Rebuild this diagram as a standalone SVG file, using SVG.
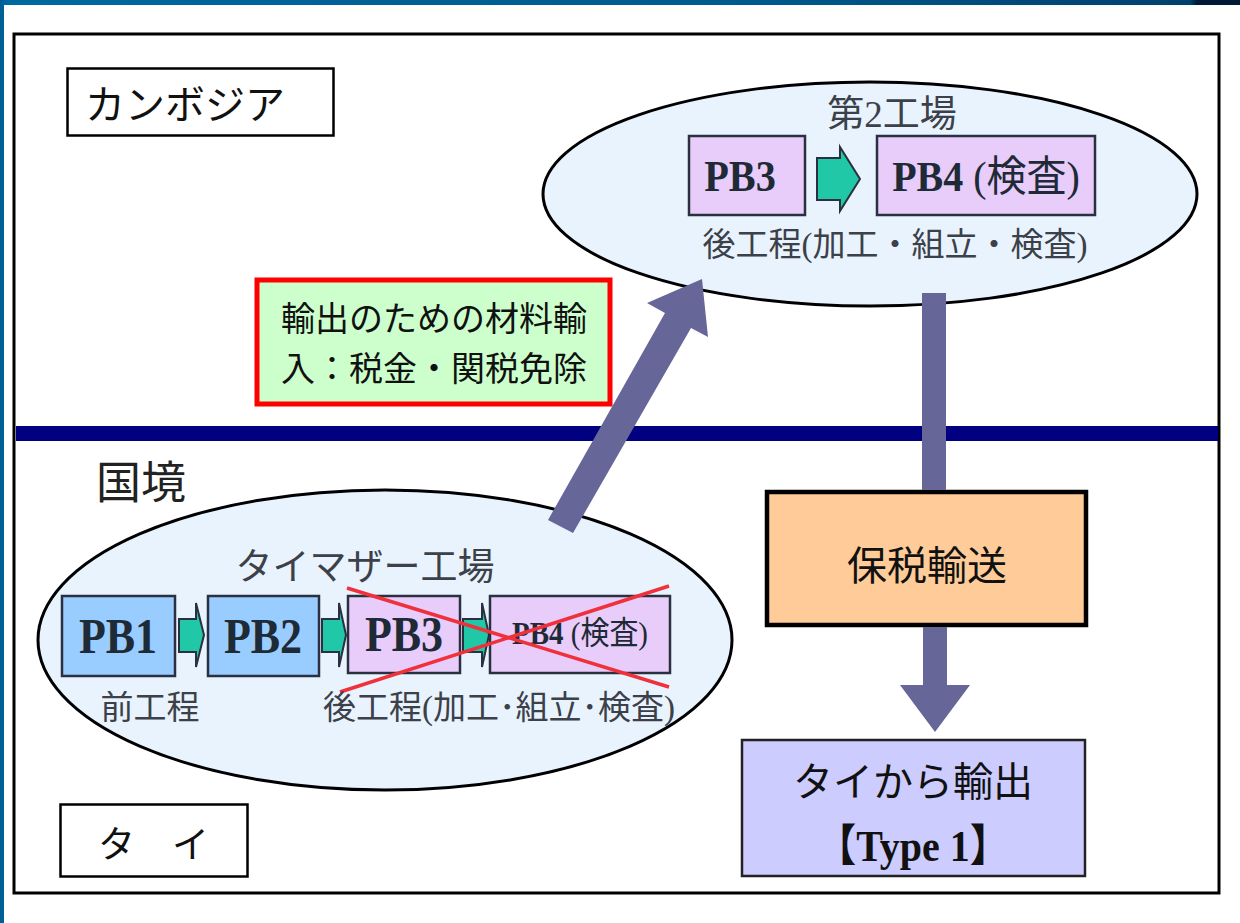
<svg xmlns="http://www.w3.org/2000/svg" width="1240" height="923" viewBox="0 0 1240 923">
<defs>
<linearGradient id="topbar" x1="0" y1="0" x2="1" y2="0">
<stop offset="0" stop-color="#0068a0"/>
<stop offset="0.6" stop-color="#005a8e"/>
<stop offset="0.96" stop-color="#00406e"/>
<stop offset="0.965" stop-color="#001a36"/>
<stop offset="1" stop-color="#001a36"/>
</linearGradient>
</defs>
<style>
.jp{font-family:"Liberation Serif","Noto Sans CJK JP",serif;}
.pb{font-family:"Liberation Serif","Noto Sans CJK JP",serif;font-weight:bold;fill:#1e2a36;}
.box{stroke:#2a3040;stroke-width:2.5;}
.pur{fill:#e8ccfa;}
.blu{fill:#99ccff;}
.teal{fill:#20c8a8;stroke:#2a3040;stroke-width:2;}
.big{fill:#666699;}
.ell{fill:#e8f3fe;stroke:#000;stroke-width:3;}
.gray{fill:#3c4048;}
</style>
<rect x="0" y="0" width="1240" height="923" fill="#fff"/>
<rect x="0" y="0" width="1240" height="5" fill="url(#topbar)"/>
<rect x="0" y="0" width="4" height="923" fill="#005f94"/>
<rect x="14" y="34" width="1205" height="859" fill="none" stroke="#000" stroke-width="3"/>

<g id="cambodia">
<rect x="67.5" y="68.5" width="266" height="67" fill="#fff" stroke="#000" stroke-width="2.5"/>
<text class="jp" x="85" y="119" font-size="40" fill="#111">カンボジア</text>
</g>

<g id="border">
<rect x="16" y="426" width="1202" height="15" fill="#000080"/>
<text class="jp" x="96" y="499" font-size="45" fill="#222">国境</text>
</g>

<g id="thailand">
<rect x="60.5" y="804.5" width="187" height="72" fill="#fff" stroke="#000" stroke-width="2.5"/>
<text class="jp" x="98" y="858" font-size="37" fill="#111">タ　イ</text>
</g>

<g id="factory2">
<ellipse cx="870" cy="194" rx="327" ry="112" class="ell"/>
<text class="jp gray" x="892" y="127" font-size="37" text-anchor="middle">第2工場</text>
<rect x="689" y="136" width="116" height="79" class="box pur"/>
<text class="pb" font-size="42" text-anchor="middle" transform="translate(740,191) scale(0.96,1.06)">PB3</text>
<path d="M817,158 H840 V147 L860,179 L840,211 V200 H817 Z" class="teal"/>
<rect x="877" y="136" width="218" height="79" class="box pur"/>
<text font-size="40" text-anchor="middle" class="jp" fill="#1e2a36" transform="translate(986,191) scale(1,1.06)"><tspan font-weight="bold">PB4</tspan> (検査)</text>
<text class="jp gray" x="895" y="256" font-size="33" text-anchor="middle">後工程(加工・組立・検査)</text>
</g>

<g id="note">
<rect x="257" y="280" width="353" height="124" fill="#ccffcc" stroke="#ff0000" stroke-width="5"/>
<text class="jp" x="281" y="331" font-size="34" fill="#111">輸出のための材料輸</text>
<text class="jp" x="281" y="381" font-size="34" fill="#111">入：税金・関税免除</text>
</g>

<g id="factory1">
<ellipse cx="385" cy="640" rx="347" ry="150" class="ell"/>
<text class="jp gray" x="365" y="580" font-size="37" text-anchor="middle">タイマザー工場</text>
<rect x="62" y="596" width="113" height="80" class="box blu"/>
<text class="pb" font-size="44" text-anchor="middle" transform="translate(118,653) scale(1,1.17)">PB1</text>
<path d="M179,619 H196 V603 L204,635 L196,667 V652 H179 Z" class="teal"/>
<rect x="208" y="596" width="111" height="80" class="box blu"/>
<text class="pb" font-size="44" text-anchor="middle" transform="translate(263,653) scale(1,1.17)">PB2</text>
<path d="M322,619 H339 V603 L346,635 L339,667 V652 H322 Z" class="teal"/>
<rect x="348" y="596" width="112" height="77" class="box pur"/>
<text class="pb" font-size="44" text-anchor="middle" transform="translate(404,651) scale(1,1.17)">PB3</text>
<path d="M463,619 H482 V603 L489,635 L482,667 V652 H463 Z" class="teal"/>
<rect x="490" y="596" width="180" height="77" class="box pur"/>
<text font-size="29" text-anchor="middle" class="jp" fill="#1e2a36" transform="translate(580,644) scale(1,1.1)"><tspan font-weight="bold">PB4</tspan> (検査)</text>
<line x1="347" y1="588" x2="669" y2="687" stroke="#f0303a" stroke-width="3.5"/>
<line x1="340" y1="692" x2="669" y2="586" stroke="#f0303a" stroke-width="3.5"/>
<text class="jp gray" x="150" y="719" font-size="33" text-anchor="middle">前工程</text>
<text class="jp gray" x="499" y="719" font-size="33" text-anchor="middle">後工程(加工･組立･検査)</text>
</g>

<g id="bonded">
<rect x="767" y="492" width="319" height="133" fill="#ffcc99" stroke="#000" stroke-width="4.5"/>
<text class="jp" x="927" y="580" font-size="40" text-anchor="middle" fill="#111">保税輸送</text>
</g>

<g id="export">
<rect x="742" y="740" width="343" height="136" fill="#ccccff" stroke="#222" stroke-width="2.5"/>
<text class="jp" x="913" y="796" font-size="40" text-anchor="middle" fill="#111">タイから輸出</text>
<text class="jp" font-size="40" text-anchor="middle" font-weight="bold" fill="#111" transform="translate(913,861) scale(1,1.1)">【Type 1】</text>
</g>

<g id="connectors">
<path class="big" d="M548,520 L573,533 L691,328 L708,337 L702,279 L647,303 L665,313 Z"/>
<rect class="big" x="922" y="293" width="24" height="197"/>
<path class="big" d="M923,627 H947 V685 H970 L935,732 L900,685 H923 Z"/>
</g>
</svg>
